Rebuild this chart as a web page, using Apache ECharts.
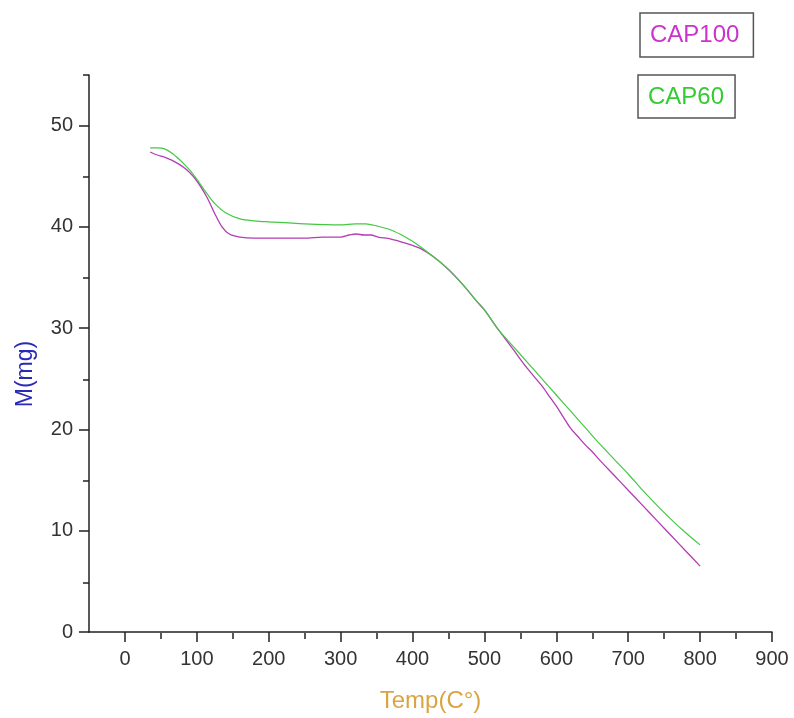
<!DOCTYPE html>
<html>
<head>
<meta charset="utf-8">
<script src="https://cdn.jsdelivr.net/npm/echarts@6/dist/echarts.min.js"></script>
<style>
  html, body { margin: 0; padding: 0; background: #fff; }
  #chart { width: 794px; height: 718px; }
</style>
</head>
<body>
<div id="chart"></div>
<script>
// Thermogravimetric curves: sample mass M (mg) against temperature (°C)
const temps100 = [35, 45, 55, 65, 75, 85, 95, 105, 115, 125, 135, 145, 160, 180, 200, 225, 250, 275, 300, 312, 322, 332, 342, 352, 370, 390, 410, 430, 450, 470, 490, 500, 520, 540, 560, 580, 590, 600, 610, 620, 630, 640, 650, 660, 680, 700, 720, 740, 760, 780, 800];
const mass100  = [47.4, 47.1, 46.9, 46.6, 46.2, 45.7, 45.0, 44.0, 42.8, 41.3, 40.0, 39.3, 39.0, 38.9, 38.9, 38.9, 38.9, 39.0, 39.0, 39.2, 39.3, 39.2, 39.2, 39.0, 38.8, 38.4, 37.9, 37.0, 35.8, 34.3, 32.6, 31.8, 29.8, 27.9, 26.0, 24.3, 23.3, 22.3, 21.2, 20.1, 19.3, 18.5, 17.8, 17.0, 15.5, 14.0, 12.5, 11.0, 9.5, 8.0, 6.5];

const temps60 = [35, 45, 55, 65, 75, 85, 95, 105, 115, 125, 140, 160, 180, 200, 250, 300, 320, 335, 350, 370, 390, 410, 430, 450, 470, 490, 500, 520, 540, 560, 580, 600, 620, 640, 660, 680, 700, 720, 740, 760, 780, 800];
const mass60  = [47.8, 47.8, 47.7, 47.3, 46.7, 46.0, 45.2, 44.2, 43.2, 42.3, 41.4, 40.8, 40.6, 40.5, 40.3, 40.2, 40.3, 40.3, 40.1, 39.7, 39.0, 38.1, 37.0, 35.8, 34.3, 32.6, 31.8, 29.8, 28.2, 26.6, 25.0, 23.4, 21.8, 20.2, 18.6, 17.1, 15.6, 14.0, 12.5, 11.1, 9.8, 8.6];

const xMajorTicks = [0, 100, 200, 300, 400, 500, 600, 700, 800, 900];
const xMinorTicks = [50, 150, 250, 350, 450, 550, 650, 750, 850];
const yMajorTicks = [0, 10, 20, 30, 40, 50];
const yMinorTicks = [5, 15, 25, 35, 45, 55];

const pairs = (xs, ys) => xs.map((x, i) => [x, ys[i]]);

const FONT = 'Liberation Sans, Arial, sans-serif';
const gridBox = { left: 89, right: 22, top: 75, bottom: 85 };
const labelStyle = { color: '#333', fontSize: 20, fontFamily: FONT };
const lineStyle = { color: '#222', width: 1.5 };

const chart = echarts.init(document.getElementById('chart'), null, { renderer: 'canvas' });
chart.setOption({
  backgroundColor: '#fff',
  animation: false,
  grid: [
    Object.assign({ containLabel: false }, gridBox),
    Object.assign({ containLabel: false }, gridBox)
  ],
  legend: [
    {
      data: ['CAP100'],
      left: 640, top: 13,
      icon: 'none', itemWidth: 0, itemHeight: 24,
      padding: [9, 14, 9, 5],
      borderColor: '#555', borderWidth: 1.5,
      textStyle: { color: '#cc33cc', fontSize: 24, fontFamily: FONT, lineHeight: 26 },
      selectedMode: false
    },
    {
      data: ['CAP60'],
      left: 638, top: 75,
      icon: 'none', itemWidth: 0, itemHeight: 24,
      padding: [9, 11, 8, 5],
      borderColor: '#555', borderWidth: 1.5,
      textStyle: { color: '#33cc33', fontSize: 24, fontFamily: FONT, lineHeight: 26 },
      selectedMode: false
    }
  ],
  graphic: [
    {
      type: 'text',
      x: 26, y: 374,
      rotation: Math.PI / 2,
      style: {
        text: 'M(mg)',
        fill: '#2a2ab8',
        font: '23px ' + FONT,
        align: 'center',
        verticalAlign: 'middle'
      }
    }
  ],
  xAxis: [
    {
      type: 'value', gridIndex: 0,
      min: -50, max: 900,
      name: 'Temp(C°)', nameLocation: 'middle', nameGap: 57,
      nameTextStyle: { color: '#d9a441', fontSize: 24, fontFamily: FONT },
      axisLine: { show: true, onZero: false, lineStyle: lineStyle },
      axisTick: { show: true, inside: false, length: 10, customValues: xMajorTicks, lineStyle: lineStyle },
      axisLabel: { show: true, margin: 17, customValues: xMajorTicks, ...labelStyle },
      splitLine: { show: false }
    },
    {
      type: 'value', gridIndex: 1,
      min: -50, max: 900,
      axisLine: { show: false, onZero: false },
      axisTick: { show: true, inside: false, length: 6, customValues: xMinorTicks, lineStyle: lineStyle },
      axisLabel: { show: false },
      splitLine: { show: false }
    }
  ],
  yAxis: [
    {
      type: 'value', gridIndex: 0,
      min: 0, max: 55,
      axisLine: { show: true, onZero: false, lineStyle: lineStyle },
      axisTick: { show: true, inside: false, length: 10, customValues: yMajorTicks, lineStyle: lineStyle },
      axisLabel: { show: true, margin: 16, customValues: yMajorTicks, ...labelStyle },
      splitLine: { show: false }
    },
    {
      type: 'value', gridIndex: 1,
      min: 0, max: 55,
      axisLine: { show: false, onZero: false },
      axisTick: { show: true, inside: false, length: 6, customValues: yMinorTicks, lineStyle: lineStyle },
      axisLabel: { show: false },
      splitLine: { show: false }
    }
  ],
  series: [
    {
      name: 'CAP100', type: 'line', xAxisIndex: 0, yAxisIndex: 0,
      data: pairs(temps100, mass100),
      showSymbol: false, symbol: 'none', smooth: 0.3,
      lineStyle: { color: '#b43cb4', width: 1.3 },
      itemStyle: { color: '#cc33cc' }
    },
    {
      name: 'CAP60', type: 'line', xAxisIndex: 0, yAxisIndex: 0,
      data: pairs(temps60, mass60),
      showSymbol: false, symbol: 'none', smooth: 0.3,
      lineStyle: { color: '#44c844', width: 1.2 },
      itemStyle: { color: '#33cc33' }
    }
  ]
});
</script>
</body>
</html>
